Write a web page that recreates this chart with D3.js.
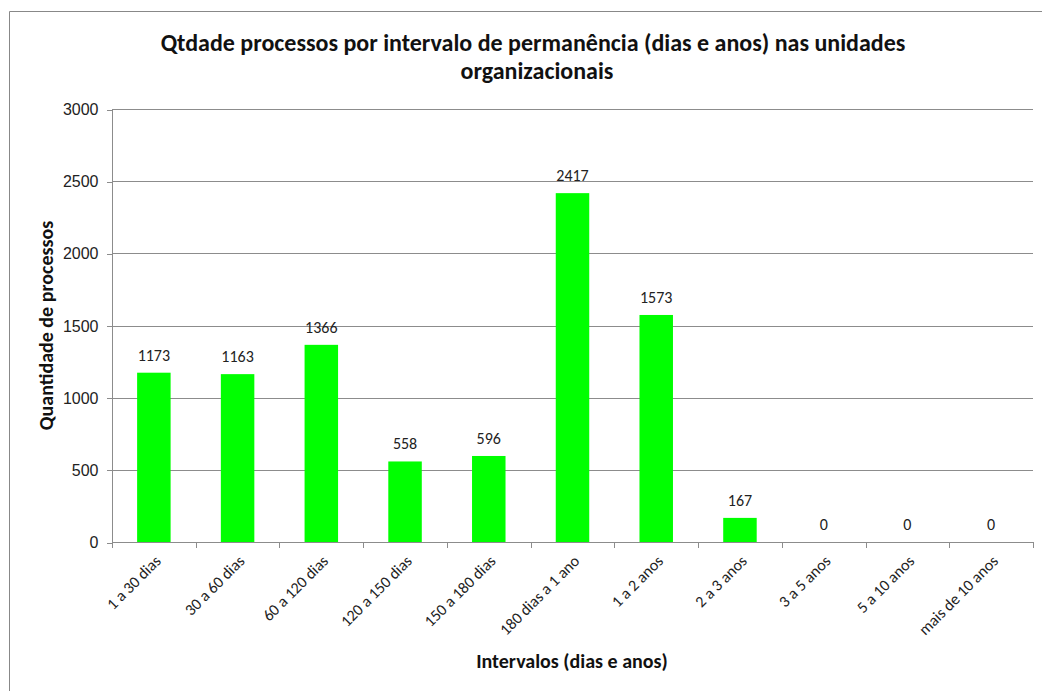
<!DOCTYPE html>
<html>
<head>
  <meta charset="utf-8">
  <title>Qtdade processos por intervalo de permanência</title>
  <script src="https://d3js.org/d3.v7.min.js"></script>
  <style>
    body { margin: 0; background: #fff; font-family: Carlito, Lato, "Open Sans", sans-serif; }
    .grid line { stroke: #8c8c8c; stroke-width: 1; }
    .axis path, .axis line { stroke: #8c8c8c; shape-rendering: crispEdges; }
    .axis text { fill: #222; font-size: 16px; }
    .lbl { fill: #222; font-size: 16px; }
    .title { font-weight: bold; font-size: 24px; fill: #111; }
    .atitle { font-weight: bold; font-size: 20px; fill: #111; }
  </style>
</head>
<body>
  <svg id="chart" width="1042" height="691"></svg>

  <script>
    const categories = ["1 a 30 dias", "30 a 60 dias", "60 a 120 dias", "120 a 150 dias",
      "150 a 180 dias", "180 dias a 1 ano", "1 a 2 anos", "2 a 3 anos",
      "3 a 5 anos", "5 a 10 anos", "mais de 10 anos"];
    const values = [1173, 1163, 1366, 558, 596, 2417, 1573, 167, 0, 0, 0];
    const yTicks = [0, 500, 1000, 1500, 2000, 2500, 3000];

    const svg = d3.select("#chart");
    const pLeft = 112, pRight = 1033, pTop = 109, pBottom = 542;

    // outer chart border (top and left visible)
    svg.append("path")
      .attr("d", "M9.5,691 V11.5 H1042")
      .attr("fill", "none")
      .attr("stroke", "#888");

    const x = d3.scaleBand().domain(categories).range([pLeft, pRight]).paddingInner(0.6).paddingOuter(0.3);
    const xb = d3.scaleBand().domain(categories).range([pLeft, pRight]);
    const y = d3.scaleLinear().domain([0, 3000]).range([pBottom, pTop]);

    svg.append("g").attr("class", "grid")
      .selectAll("line")
      .data(yTicks.filter(d => d > 0))
      .join("line")
      .attr("x1", pLeft).attr("x2", pRight)
      .attr("y1", d => Math.round(y(d)) + 0.5).attr("y2", d => Math.round(y(d)) + 0.5);

    const yAxis = svg.append("g").attr("class", "axis")
      .attr("transform", `translate(${pLeft + 0.5},0.5)`)
      .call(d3.axisLeft(y).tickValues(yTicks).tickSize(6).tickPadding(8).tickFormat(d3.format("d")));
    yAxis.select(".domain").attr("d", `M0,${pTop}V${pBottom}`);

    svg.append("g")
      .selectAll("rect")
      .data(values)
      .join("rect")
      .attr("x", (d, i) => x(categories[i]))
      .attr("width", x.bandwidth())
      .attr("y", d => y(d))
      .attr("height", d => y(0) - y(d))
      .attr("fill", "#00ff00");

    // x axis with ticks at band boundaries
    const xa = svg.append("g").attr("class", "axis");
    xa.append("line")
      .attr("x1", pLeft).attr("x2", pRight)
      .attr("y1", pBottom + 0.5).attr("y2", pBottom + 0.5);
    xa.selectAll("line.tk")
      .data(categories.concat([null]))
      .join("line")
      .attr("class", "tk")
      .attr("x1", (d, i) => Math.round(pLeft + i * xb.bandwidth()) + 0.5)
      .attr("x2", (d, i) => Math.round(pLeft + i * xb.bandwidth()) + 0.5)
      .attr("y1", pBottom).attr("y2", pBottom + 6);
    xa.selectAll("text")
      .data(categories)
      .join("text")
      .attr("transform", d => `translate(${xb(d) + xb.bandwidth() / 2 + 4},${pBottom + 16}) rotate(-45)`)
      .attr("text-anchor", "end")
      .attr("dy", "0.35em")
      .text(d => d);

    svg.append("g")
      .selectAll("text")
      .data(values)
      .join("text")
      .attr("class", "lbl")
      .attr("x", (d, i) => xb(categories[i]) + xb.bandwidth() / 2)
      .attr("y", d => y(d) - 12)
      .attr("text-anchor", "middle")
      .text(d => d);

    const title = svg.append("text").attr("class", "title").attr("text-anchor", "middle");
    title.append("tspan").attr("x", 533).attr("y", 51)
      .text("Qtdade processos por intervalo de permanência (dias e anos) nas unidades");
    title.append("tspan").attr("x", 537).attr("y", 79).text("organizacionais");

    svg.append("text").attr("class", "atitle")
      .attr("text-anchor", "middle")
      .attr("transform", `translate(53,${(pTop + pBottom) / 2}) rotate(-90)`)
      .text("Quantidade de processos");

    svg.append("text").attr("class", "atitle")
      .attr("text-anchor", "middle")
      .attr("x", 572).attr("y", 668)
      .text("Intervalos (dias e anos)");
  </script>
</body>
</html>
